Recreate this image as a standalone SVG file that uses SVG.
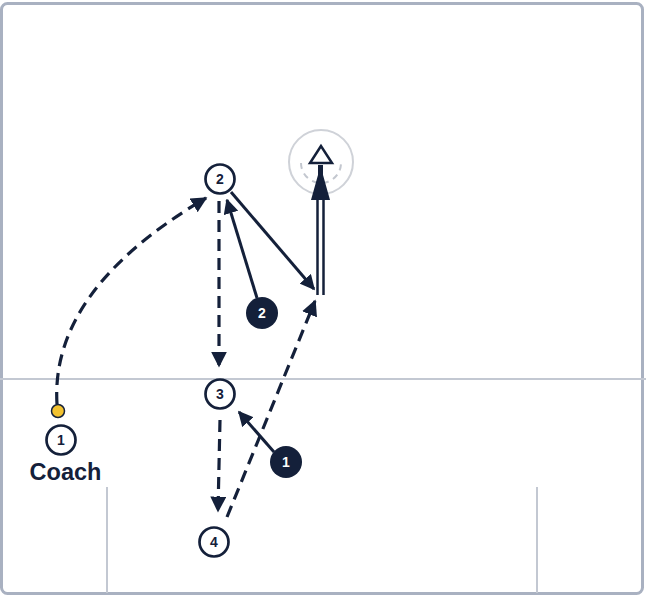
<svg xmlns="http://www.w3.org/2000/svg" width="646" height="598" viewBox="0 0 646 598">
<style>
.court{fill:none;stroke:#c3c8d2;stroke-width:2}
.pl circle{fill:#fff;stroke:#14203a;stroke-width:2.7}
.pl text,.def text{font-family:"Liberation Sans",Arial,sans-serif;font-size:14px;font-weight:bold;text-anchor:middle}
.pl text{fill:#14203a}
.def circle{fill:#14203a}
.def text{fill:#fff}
.solid{fill:none;stroke:#14203a;stroke-width:3}
.dash{fill:none;stroke:#14203a;stroke-width:3.2;stroke-dasharray:12 7}
</style>
<defs>
<marker id="ah" viewBox="0 0 10 10" refX="9" refY="5" markerWidth="5" markerHeight="5" orient="auto" markerUnits="strokeWidth">
<path d="M0,0 L10,5 L0,10 z" fill="#14203a"/>
</marker>
</defs>
<rect x="1.5" y="3.5" width="641" height="590" rx="6" fill="#fff" stroke="#a9b1c1" stroke-width="3"/>
<line class="court" x1="0" y1="379" x2="646" y2="379"/>
<line class="court" x1="107" y1="487" x2="107" y2="593"/>
<line class="court" x1="537" y1="487" x2="537" y2="593"/>
<g id="basket">
<circle cx="321" cy="162" r="32" fill="none" stroke="#cfd2d8" stroke-width="2"/>
<path d="M301 163 A20 20 0 0 0 341 163" fill="none" stroke="#c3c7cf" stroke-width="2" stroke-dasharray="6 5"/>
<polygon points="321,146 310,163 332,163" fill="#fff" stroke="#14203a" stroke-width="2.5"/>
</g>
<g id="connectors">
<path class="dash" d="M57 404 Q50 290 206 198" marker-end="url(#ah)"/>
<line class="solid" x1="231" y1="192" x2="314" y2="289" marker-end="url(#ah)"/>
<line class="solid" x1="257" y1="298" x2="227" y2="200" marker-end="url(#ah)"/>
<line class="dash" x1="219" y1="201" x2="219" y2="366" marker-end="url(#ah)"/>
<line class="dash" x1="220" y1="420" x2="218" y2="511" marker-end="url(#ah)"/>
<line class="dash" x1="227" y1="517" x2="315" y2="301" marker-end="url(#ah)"/>
<line class="solid" x1="274" y1="452" x2="239" y2="412" marker-end="url(#ah)"/>
<line x1="317.5" y1="295" x2="317.5" y2="195" stroke="#14203a" stroke-width="2.5"/>
<line x1="323.5" y1="295" x2="323.5" y2="195" stroke="#14203a" stroke-width="2.5"/>
<polygon points="320.5,166 311,200 330,200" fill="#14203a"/>
<line x1="320.5" y1="165" x2="320.5" y2="190" stroke="#14203a" stroke-width="5"/>
</g>
<g id="ball"><circle cx="58" cy="411" r="6.5" fill="#f2c230" stroke="#14203a" stroke-width="1.5"/></g>
<g id="p1" class="pl"><circle cx="61" cy="440" r="14.5"/><text x="61" y="445">1</text></g>
<g id="coach-label"><text x="65.5" y="480" font-family="Liberation Sans,Arial,sans-serif" font-size="23.5" font-weight="bold" fill="#14203a" text-anchor="middle">Coach</text></g>
<g id="p2" class="pl"><circle cx="220" cy="179" r="14.5"/><text x="220" y="184">2</text></g>
<g id="p3" class="pl"><circle cx="220" cy="394" r="14.5"/><text x="220" y="399">3</text></g>
<g id="p4" class="pl"><circle cx="214" cy="542" r="14.5"/><text x="214" y="547">4</text></g>
<g id="d2" class="def"><circle cx="262" cy="313" r="16"/><text x="262" y="318">2</text></g>
<g id="d1" class="def"><circle cx="286" cy="462" r="16"/><text x="286" y="467">1</text></g>
</svg>
